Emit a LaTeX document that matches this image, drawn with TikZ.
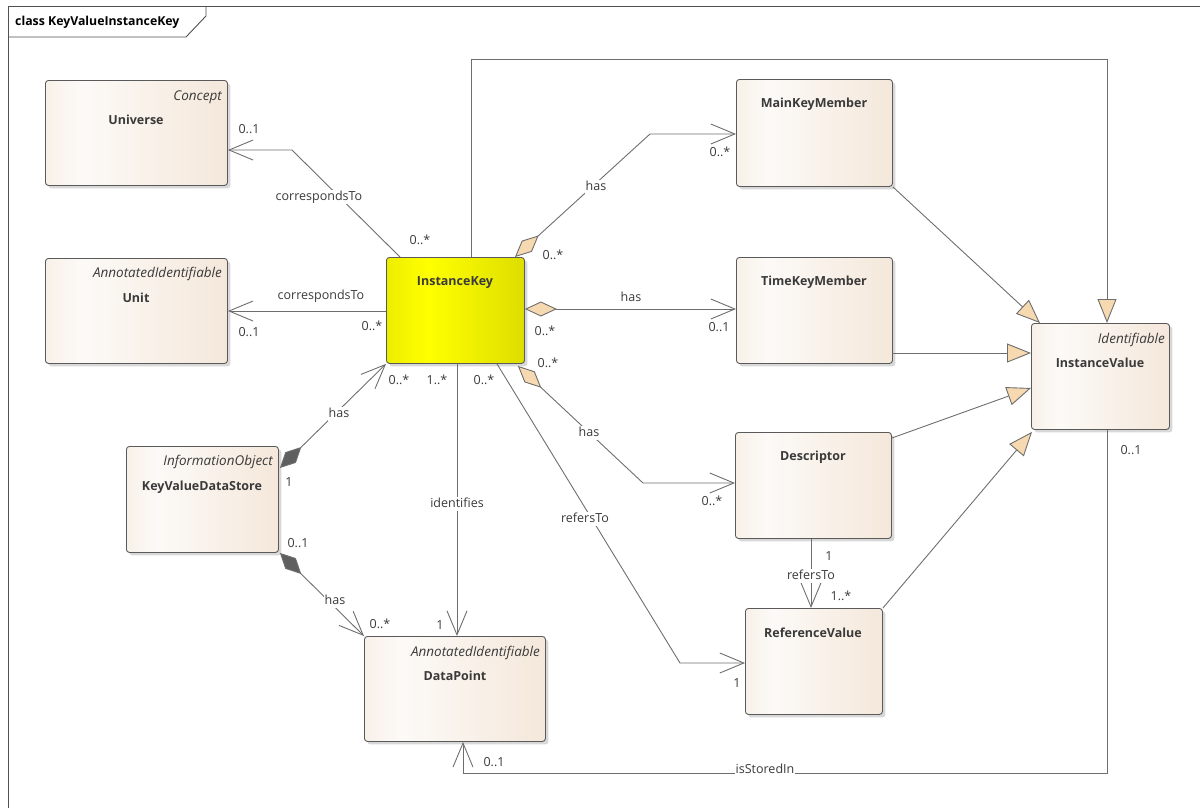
\documentclass[tikz,border=0pt]{standalone}
\usepackage{fontspec}
\setmainfont{Open Sans}
\usetikzlibrary{arrows.meta,shadows,calc}
\definecolor{ln}{HTML}{6E6E6E}
\definecolor{frm}{HTML}{505050}
\definecolor{txt}{HTML}{3A3A3A}
\definecolor{bord}{HTML}{5A5A5A}
\definecolor{boxL}{HTML}{EDD9C6}
\definecolor{boxM}{HTML}{FCFAF7}
\definecolor{boxR}{HTML}{F0DCC9}
\definecolor{ikL}{HTML}{CFCF00}
\definecolor{ikM}{HTML}{FFFF00}
\definecolor{ikR}{HTML}{C6C600}
\definecolor{aggfill}{HTML}{F6D9B0}
\definecolor{compfill}{HTML}{5F5F5F}
\pgfdeclarehorizontalshading{boxsh}{100bp}{color(0bp)=(boxL); color(35bp)=(boxM); color(100bp)=(boxR)}
\pgfdeclarehorizontalshading{iksh}{100bp}{color(0bp)=(ikL); color(40bp)=(ikM); color(100bp)=(ikR)}
\begin{document}
\begin{tikzpicture}[x=1pt,y=-1pt,
  box/.style={draw=bord, line width=0.9pt, rounded corners=3pt,
    shade, shading=boxsh,
    drop shadow={shadow xshift=3pt, shadow yshift=-3pt, fill=black!30, opacity=0.5},
    anchor=north west, inner sep=0pt},
  ikbox/.style={box, shading=iksh},
  stereo/.style={font=\itshape\fontsize{13.5}{15}\selectfont, text=txt, anchor=east, inner sep=0pt, text height=9pt, text depth=3pt},
  cname/.style={font=\bfseries\fontsize{12.5}{14}\selectfont, text=txt, inner sep=0pt, text height=9pt, text depth=3pt},
  lbl/.style={font=\fontsize{12.5}{14}\selectfont, text=txt, inner sep=1pt, text height=9pt, text depth=3pt},
  mlbl/.style={lbl, fill=white},
  conn/.style={draw=ln, line width=0.9pt},
  assoc/.style={conn, -{Straight Barb[length=24pt, width=20pt, line width=0.9pt]}},
  agg/.style={conn, {Diamond[length=32pt, width=15pt, fill=aggfill]}-{Straight Barb[length=24pt, width=20pt, line width=0.9pt]}},
  comp/.style={conn, {Diamond[length=30pt, width=15pt, fill=compfill]}-{Straight Barb[length=24pt, width=20pt, line width=0.9pt]}},
  gen/.style={conn, -{Triangle[length=24pt, width=19pt, fill=aggfill]}}
]
\useasboundingbox (0,0) rectangle (1200,807);
% frame
\draw[frm, line width=0.9pt] (8,820) -- (8,6) -- (1210,6);
\draw[frm, line width=0.9pt] (8,37) -- (186,37) -- (206,16) -- (206,6);
\node[font=\bfseries\fontsize{12.3}{14}\selectfont, text=black, anchor=west, inner sep=0pt] (title) at (15,22) {class KeyValueInstanceKey};

% boxes
\node[box, minimum width=182pt, minimum height=105pt] (universe) at (45,80) {};
\node[stereo] (universeS) at (222,97) {Concept};
\node[cname] (universeN) at (136,121) {Universe};

\node[box, minimum width=182pt, minimum height=105pt] (unit) at (45,258) {};
\node[stereo] (unitS) at (222,274) {AnnotatedIdentifiable};
\node[cname] (unitN) at (136,299) {Unit};

\node[ikbox, minimum width=138pt, minimum height=106pt] (ik) at (386,257) {};
\node[cname] (ikN) at (455,282) {InstanceKey};

\node[box, minimum width=152pt, minimum height=106pt] (kvds) at (126,446) {};
\node[stereo] (kvdsS) at (273,462) {InformationObject};
\node[cname] (kvdsN) at (202,487) {KeyValueDataStore};

\node[box, minimum width=181pt, minimum height=105pt] (dp) at (364,636) {};
\node[stereo] (dpS) at (540,653) {AnnotatedIdentifiable};
\node[cname] (dpN) at (455,677) {DataPoint};

\node[box, minimum width=156pt, minimum height=107pt] (mkm) at (736,79) {};
\node[cname] (mkmN) at (814,104) {MainKeyMember};

\node[box, minimum width=156pt, minimum height=106pt] (tkm) at (736,257) {};
\node[cname] (tkmN) at (814,282) {TimeKeyMember};

\node[box, minimum width=138pt, minimum height=106pt] (iv) at (1031,323) {};
\node[stereo] (ivS) at (1165,340) {Identifiable};
\node[cname] (ivN) at (1100,364) {InstanceValue};

\node[box, minimum width=156pt, minimum height=106pt] (desc) at (735,432) {};
\node[cname] (descN) at (813,457) {Descriptor};

\node[box, minimum width=137pt, minimum height=106pt] (rv) at (745,608) {};
\node[cname] (rvN) at (813,634) {ReferenceValue};

% connectors
\coordinate (b1) at (292,150);
\draw[assoc] ($(ik.north west)+(14,0)$) -- (b1) -- ($(universe.north east)+(0,70)$);
\draw[assoc] ($(ik.north west)+(0,54)$) -- ($(unit.north east)+(0,53)$);
\coordinate (b2) at (471,59);
\coordinate (b3) at (1107,59);
\draw[gen] ($(ik.north west)+(85,0)$) -- (b2) -- (b3) -- ($(iv.north west)+(76,0)$);
\coordinate (b4) at (650,134);
\draw[agg] ($(ik.north west)+(129,0)$) -- (b4) -- ($(mkm.north west)+(0,55)$);
\draw[agg] ($(ik.north east)+(0,52)$) -- ($(tkm.north west)+(0,52)$);
\coordinate (b5) at (643,483);
\draw[agg] ($(ik.south east)+(-7,2)$) -- (b5) -- ($(desc.north west)+(0,51)$);
\coordinate (b6) at (680,663);
\draw[assoc] ($(ik.south west)+(111,0)$) -- (b6) -- ($(rv.north west)+(0,55)$);
\draw[assoc] ($(ik.south west)+(71,0)$) -- ($(dp.north west)+(93,0)$);
\draw[comp] ($(kvds.north east)+(1,22)$) -- (ik.south west);
\draw[comp] ($(kvds.south east)+(1,0)$) -- (dp.north west);
\draw[gen] (mkm.south east) -- ($(iv.north west)+(9,0)$);
\draw[gen] ($(tkm.north west)+(156,96)$) -- ($(iv.north west)+(0,30)$);
\draw[gen] ($(desc.north east)+(0,6)$) -- ($(iv.north west)+(0,65)$);
\draw[gen] (rv.north east) -- ($(iv.south west)+(1,2)$);
\draw[assoc] ($(desc.south west)+(76,0)$) -- ($(rv.north west)+(66,0)$);
\coordinate (b7) at (1107,773);
\coordinate (b8) at (463,773);
\draw[assoc] ($(iv.south west)+(76,0)$) -- (b7) -- (b8) -- ($(dp.south west)+(99,0)$);

% labels
\node[mlbl] (l1) at (319,197) {correspondsTo};
\node[lbl] (l2) at (249,130) {0..1};
\node[lbl] (l3) at (420,241) {0..*};
\node[lbl] (l4) at (321,296) {correspondsTo};
\node[lbl] (l5) at (249,333) {0..1};
\node[lbl] (l6) at (372,327) {0..*};
\node[mlbl] (l7) at (596,187) {has};
\node[lbl] (l8) at (720,153) {0..*};
\node[lbl] (l9) at (553,256) {0..*};
\node[lbl] (l10) at (631,298) {has};
\node[lbl] (l11) at (719,328) {0..1};
\node[lbl] (l12) at (545,332) {0..*};
\node[lbl] (l13) at (548,364) {0..*};
\node[mlbl] (l14) at (589,433) {has};
\node[lbl] (l15) at (712,502) {0..*};
\node[mlbl] (l16) at (585,519) {refersTo};
\node[lbl] (l17) at (737,684) {1};
\node[lbl] (l18) at (484,381) {0..*};
\node[lbl] (l19) at (437,381) {1..*};
\node[mlbl] (l20) at (457,504) {identifies};
\node[lbl] (l21) at (440,626) {1};
\node[lbl] (l22) at (399,381) {0..*};
\node[mlbl] (l23) at (339,414) {has};
\node[lbl] (l24) at (289,483) {1};
\node[lbl] (l25) at (298,544) {0..1};
\node[mlbl] (l26) at (335,601) {has};
\node[lbl] (l27) at (380,625) {0..*};
\node[lbl] (l28) at (829,557) {1};
\node[mlbl] (l29) at (811,576) {refersTo};
\node[lbl] (l30) at (841,597) {1..*};
\node[lbl] (l31) at (1131,451) {0..1};
\node[lbl] (l32) at (494,763) {0..1};
\node[mlbl] (l33) at (765,770) {isStoredIn};
\end{tikzpicture}
\end{document}
